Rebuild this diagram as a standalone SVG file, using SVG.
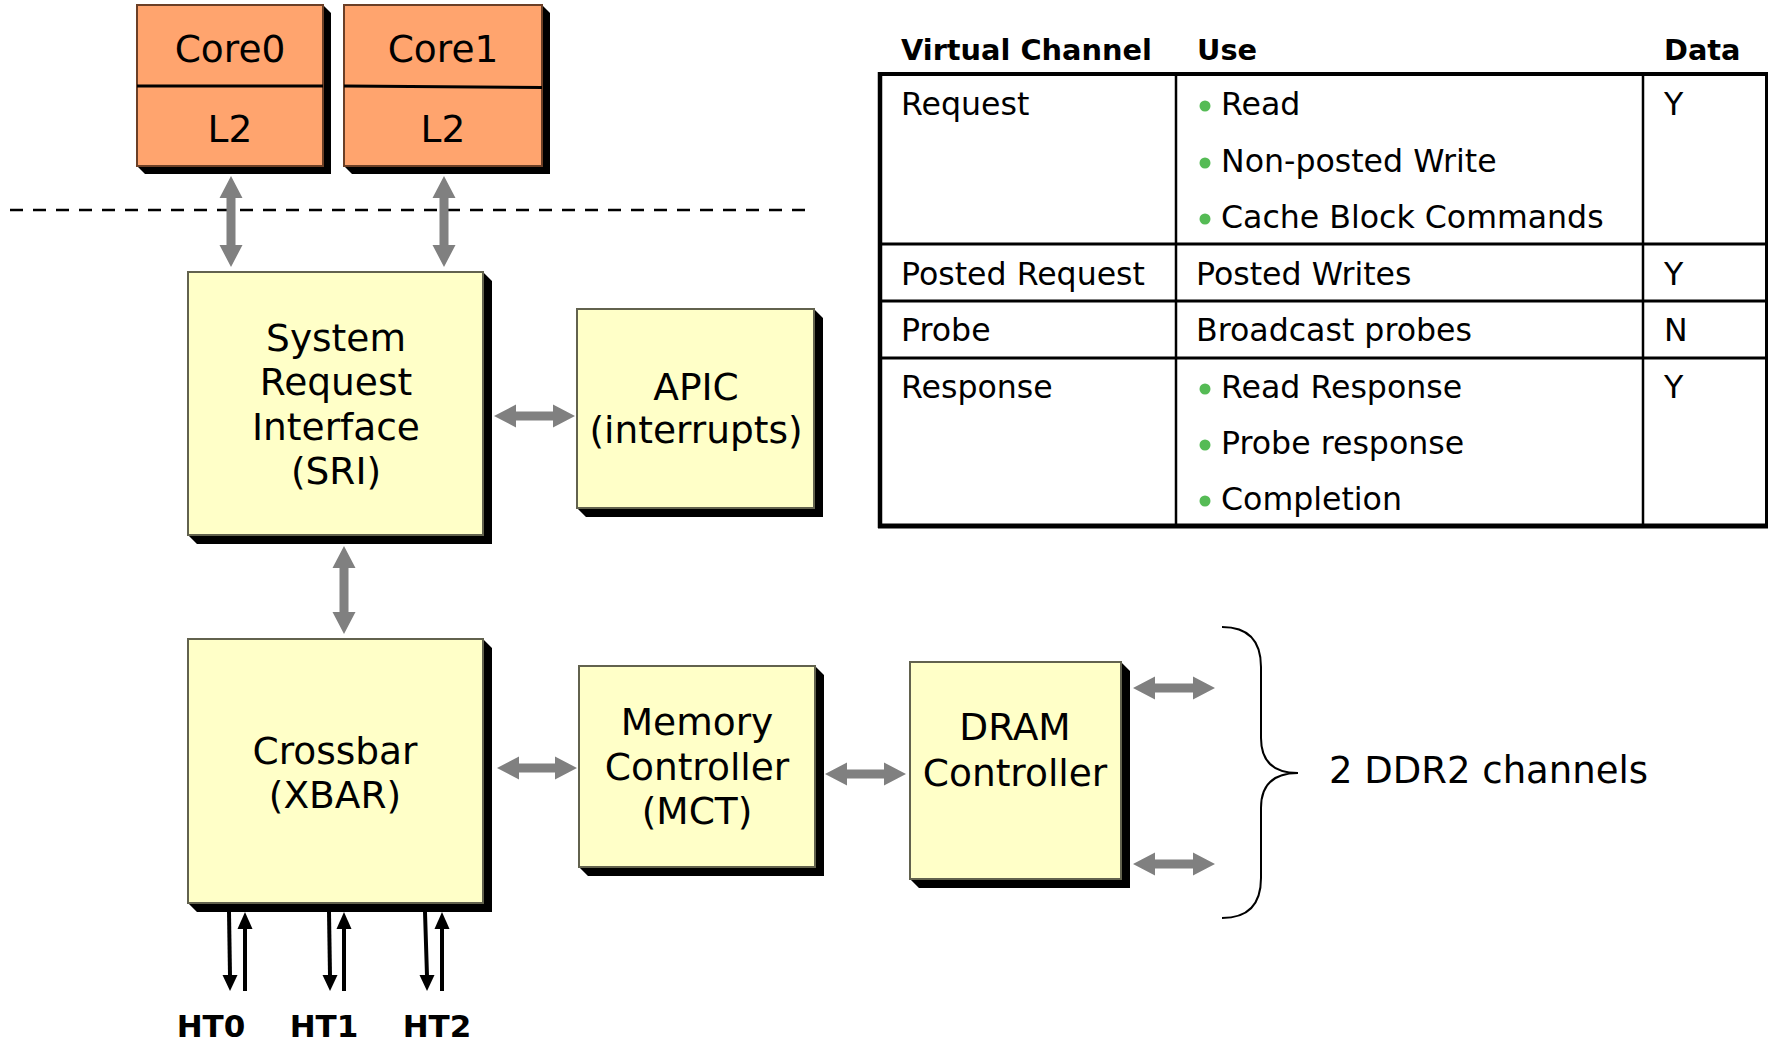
<svg xmlns="http://www.w3.org/2000/svg" width="1770" height="1041" viewBox="0 0 1770 1041">
  <style>
    text { font-family: "DejaVu Sans", Verdana, sans-serif; fill: #000; }
    .box { font-size: 37.5px; text-anchor: middle; }
    .core { fill: #FFA46E; stroke: #6B3F26; stroke-width: 2; }
    .unit { fill: #FFFFC8; stroke: #62624E; stroke-width: 2; }
    .shadow { fill: #000; }
    .garrow { fill: #808080; }
    .ht { stroke: #000; stroke-width: 4; fill: none; }
    .head { fill: #000; }
    .htlabel { font-size: 31px; font-weight: bold; text-anchor: middle; }
    .th { font-size: 28.8px; font-weight: bold; }
    .td { font-size: 31.6px; }
    .bullet { fill: #55BB55; }
    .grid { stroke: #000; fill: none; }
  </style>

  <!-- chip boundary -->
  <line x1="10" y1="210" x2="813" y2="210" stroke="#000" stroke-width="2.5" stroke-dasharray="13 10"/>

  <!-- nodes -->
  <g id="core0">
    <polygon class="shadow" points="323,5 331,13 331,174 145,174 137,166 323,166"/>
    <rect class="core" x="137" y="5" width="186" height="161"/>
    <line x1="137" y1="86" x2="323" y2="86" stroke="#000" stroke-width="3"/>
    <text class="box" x="230" y="62">Core0</text>
    <text class="box" x="230" y="142">L2</text>
  </g>
  <g id="core1">
    <polygon class="shadow" points="542,5 550,13 550,174 352,174 344,166 542,166"/>
    <rect class="core" x="344" y="5" width="198" height="161"/>
    <line x1="344" y1="86" x2="542" y2="87.5" stroke="#000" stroke-width="3"/>
    <text class="box" x="443" y="62">Core1</text>
    <text class="box" x="443" y="142">L2</text>
  </g>
  <g id="sri">
    <polygon class="shadow" points="483,272 492,281 492,544 197,544 188,535 483,535"/>
    <rect class="unit" x="188" y="272" width="295" height="263"/>
    <text class="box" x="336" y="351">System</text>
    <text class="box" x="336" y="395">Request</text>
    <text class="box" x="336" y="440">Interface</text>
    <text class="box" x="336" y="484">(SRI)</text>
  </g>
  <g id="apic">
    <polygon class="shadow" points="814,309 823,318 823,517 586,517 577,508 814,508"/>
    <rect class="unit" x="577" y="309" width="237" height="199"/>
    <text class="box" x="696" y="400">APIC</text>
    <text class="box" x="696" y="443">(interrupts)</text>
  </g>
  <g id="xbar">
    <polygon class="shadow" points="483,639 492,648 492,912 197,912 188,903 483,903"/>
    <rect class="unit" x="188" y="639" width="295" height="264"/>
    <text class="box" x="335" y="764">Crossbar</text>
    <text class="box" x="335" y="808">(XBAR)</text>
  </g>
  <g id="mct">
    <polygon class="shadow" points="815,666 824,675 824,876 588,876 579,867 815,867"/>
    <rect class="unit" x="579" y="666" width="236" height="201"/>
    <text class="box" x="697" y="735">Memory</text>
    <text class="box" x="697" y="780">Controller</text>
    <text class="box" x="697" y="824">(MCT)</text>
  </g>
  <g id="dram">
    <polygon class="shadow" points="1121,662 1130,671 1130,888 919,888 910,879 1121,879"/>
    <rect class="unit" x="910" y="662" width="211" height="217"/>
    <text class="box" x="1015" y="740">DRAM</text>
    <text class="box" x="1015" y="786">Controller</text>
  </g>
  <g id="ddr2">
    <path d="M1222,627 Q1261,627 1261,667 L1261,738 Q1261,773 1298,773 Q1261,773 1261,808 L1261,878 Q1261,918 1222,918" fill="none" stroke="#000" stroke-width="2"/>
    <text x="1329" y="783" style="font-size:37px">2 DDR2 channels</text>
  </g>
  <g id="ht-ports">
    <text class="htlabel" x="211" y="1037">HT0</text>
    <text class="htlabel" x="324" y="1037">HT1</text>
    <text class="htlabel" x="437" y="1037">HT2</text>
  </g>

  <!-- connectors -->
  <g id="connectors">
    <polygon class="garrow" points="231,176 242.5,198 235.5,198 235.5,245 242.5,245 231,267 219.5,245 226.5,245 226.5,198 219.5,198"/>
    <polygon class="garrow" points="444,176 455.5,198 448.5,198 448.5,245 455.5,245 444,267 432.5,245 439.5,245 439.5,198 432.5,198"/>
    <polygon class="garrow" points="344,546 355.5,568 348.5,568 348.5,612 355.5,612 344,634 332.5,612 339.5,612 339.5,568 332.5,568"/>
    <polygon class="garrow" points="494,416 516,404.5 516,411.5 553,411.5 553,404.5 575,416 553,427.5 553,420.5 516,420.5 516,427.5"/>
    <polygon class="garrow" points="497,768 519,756.5 519,763.5 555,763.5 555,756.5 577,768 555,779.5 555,772.5 519,772.5 519,779.5"/>
    <polygon class="garrow" points="825,774 847,762.5 847,769.5 884,769.5 884,762.5 906,774 884,785.5 884,778.5 847,778.5 847,785.5"/>
    <polygon class="garrow" points="1133,688 1155,676.5 1155,683.5 1193,683.5 1193,676.5 1215,688 1193,699.5 1193,692.5 1155,692.5 1155,699.5"/>
    <polygon class="garrow" points="1133,864 1155,852.5 1155,859.5 1193,859.5 1193,852.5 1215,864 1193,875.5 1193,868.5 1155,868.5 1155,875.5"/>

    <!-- HyperTransport links: out (down) and in (up) -->
    <line class="ht" x1="229" y1="912" x2="230" y2="976"/>
    <polygon class="head" points="222.5,975 237.5,975 230,991"/>
    <line class="ht" x1="245" y1="991" x2="245" y2="927"/>
    <polygon class="head" points="237.5,929 252.5,929 245,912"/>

    <line class="ht" x1="329" y1="912" x2="330" y2="976"/>
    <polygon class="head" points="322.5,975 337.5,975 330,991"/>
    <line class="ht" x1="344" y1="991" x2="344" y2="927"/>
    <polygon class="head" points="336.5,929 351.5,929 344,912"/>

    <line class="ht" x1="425" y1="912" x2="427" y2="976"/>
    <polygon class="head" points="419.5,975 434.5,975 427,991"/>
    <line class="ht" x1="442" y1="991" x2="442" y2="927"/>
    <polygon class="head" points="434.5,929 449.5,929 442,912"/>
  </g>

  <!-- virtual channel table -->
  <g id="vc-table">
    <text class="th" x="901" y="60">Virtual Channel</text>
    <text class="th" x="1197" y="60">Use</text>
    <text class="th" x="1664" y="60">Data</text>

    <line class="grid" x1="878" y1="74" x2="1768" y2="74" stroke-width="4"/>
    <line class="grid" x1="880" y1="72" x2="880" y2="528" stroke-width="4.5"/>
    <line class="grid" x1="1766.5" y1="72" x2="1766.5" y2="528" stroke-width="3"/>
    <line class="grid" x1="878" y1="526" x2="1768" y2="526" stroke-width="5"/>
    <line class="grid" x1="880" y1="244" x2="1768" y2="244" stroke-width="3"/>
    <line class="grid" x1="880" y1="301" x2="1768" y2="301" stroke-width="3"/>
    <line class="grid" x1="880" y1="358" x2="1768" y2="358" stroke-width="3"/>
    <line class="grid" x1="1176" y1="74" x2="1176" y2="526" stroke-width="2.5"/>
    <line class="grid" x1="1643" y1="74" x2="1643" y2="526" stroke-width="2.5"/>

    <text class="td" x="901" y="115">Request</text>
    <circle class="bullet" cx="1205" cy="106" r="5.5"/>
    <text class="td" x="1221" y="115">Read</text>
    <circle class="bullet" cx="1205" cy="163" r="5.5"/>
    <text class="td" x="1221" y="172">Non-posted Write</text>
    <circle class="bullet" cx="1205" cy="219" r="5.5"/>
    <text class="td" x="1221" y="228">Cache Block Commands</text>
    <text class="td" x="1664" y="115">Y</text>

    <text class="td" x="901" y="285">Posted Request</text>
    <text class="td" x="1196" y="285">Posted Writes</text>
    <text class="td" x="1664" y="285">Y</text>

    <text class="td" x="901" y="341">Probe</text>
    <text class="td" x="1196" y="341">Broadcast probes</text>
    <text class="td" x="1664" y="341">N</text>

    <text class="td" x="901" y="398">Response</text>
    <circle class="bullet" cx="1205" cy="389" r="5.5"/>
    <text class="td" x="1221" y="398">Read Response</text>
    <circle class="bullet" cx="1205" cy="445" r="5.5"/>
    <text class="td" x="1221" y="454">Probe response</text>
    <circle class="bullet" cx="1205" cy="501" r="5.5"/>
    <text class="td" x="1221" y="510">Completion</text>
    <text class="td" x="1664" y="398">Y</text>
  </g>
</svg>
